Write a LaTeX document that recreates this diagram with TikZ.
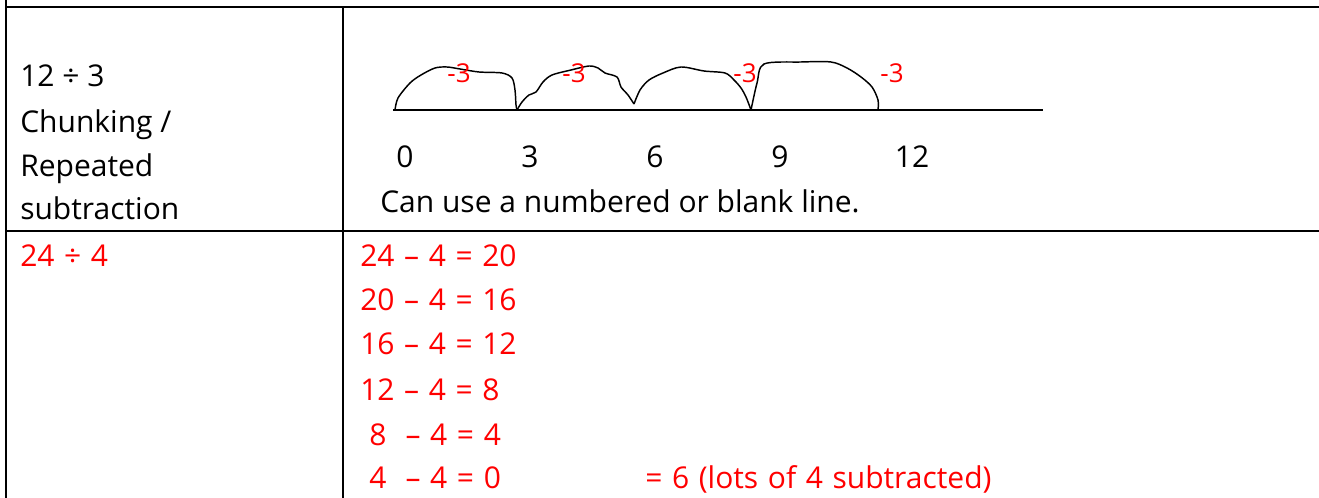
\documentclass[tikz,border=0pt]{standalone}
\usepackage{fontspec}
\setmainfont{Open Sans}
\usetikzlibrary{positioning}
\definecolor{pen}{RGB}{255,0,0}
\newcommand\penfont{\fontsize{22.5}{26}\selectfont\spaceskip=0.32em\relax}

\begin{document}
\begin{tikzpicture}[x=0.75pt, y=-0.75pt,
  rule/.style={line width=1.5pt},
  axis/.style={line width=1.4pt},
  hop/.style={line width=1.1pt, line join=round},
  txt/.style={font=\fontsize{22.5}{26}\selectfont, anchor=base west, inner sep=0pt},
  worked/.style={txt, text=pen, font=\penfont},
  num/.style={font=\fontsize{22.5}{26}\selectfont, anchor=base, inner sep=0pt},
  minus/.style={font=\fontsize{19.5}{22}\selectfont, text=pen, inner sep=0pt}
]
\useasboundingbox (0,0) rectangle (1319,498);
% ── Table rules ───────────────────────
\draw[rule] (6,0) -- (6,498);
\draw[rule] (6,7) -- (1319,7);
\draw[rule] (343,7) -- (343,498);
\draw[rule] (6,231) -- (1319,231);
% ── Left column ───────────────────────
\node[txt] (q1) at (20,87)  {12 ÷ 3};
\node[txt] (m1) at (20,133) {Chunking /};
\node[txt] (m2) at (20,177) {Repeated};
\node[txt] (m3) at (20,220) {subtraction};
\node[worked] (q2) at (20,267) {24 ÷ 4};
% ── Number line ───────────────────────
\coordinate (l0) at (393,110);
\coordinate (l1) at (1043,110);
\draw[axis] (l0) -- (l1);
\coordinate (p0) at (395,110);
\coordinate (p1) at (517,110);
\coordinate (p2) at (634,104);
\coordinate (p3) at (751,110);
\coordinate (p4) at (878,110);
\foreach \v/\x in {0/405, 3/530, 6/655, 9/780, 12/912}
  \node[num] (n\v) at (\x,168) {\v};
\node[txt] (note) at (380,213) {Can use a numbered or blank line.};
% ── Jumps ─────────────────────────────
\draw[hop] plot[smooth, tension=0.5] coordinates {(p0) (398,98) (410,83)
  (421,75) (435,68) (447,67) (460,69) (479,72) (502,73) (512,78) (515,90)
  (516,105) (p1)};
\draw[hop] plot[smooth, tension=0.5] coordinates {(p1) (522,102) (529,95)
  (536,92) (543,82) (552,75) (571,70) (589,66) (598,68) (605,73) (617,77)
  (621,87) (628,95) (p2)};
\draw[hop] plot[smooth, tension=0.5] coordinates {(p2) (640,90) (649,80)
  (663,73) (681,67) (704,71) (725,73) (734,80) (741,88) (746,97) (p3)};
\draw[hop] plot[smooth, tension=0.5] coordinates {(p3) (757,83) (764,64)
  (801,62) (831,62) (847,68) (861,77) (872,87) (878,100) (p4)};
\foreach \i/\x in {1/459, 2/574, 3/745, 4/892}
  \node[minus] (j\i) at (\x,73) {-3};
% ── Worked subtraction ────────────────
\node[worked] (s1) at (360,267) {24 – 4 = 20};
\node[worked] (s2) at (360,311) {20 – 4 = 16};
\node[worked] (s3) at (360,355) {16 – 4 = 12};
\node[worked] (s4) at (360,400) {12 – 4 = 8};
\node[worked] (s5) at (369,445) {8\ \ – 4 = 4};
\node[worked] (s6) at (369,488) {4\ \ – 4 = 0};
\node[worked] (total) at (645,488) {= 6 (lots of 4 subtracted)};
\end{tikzpicture}
\end{document}
